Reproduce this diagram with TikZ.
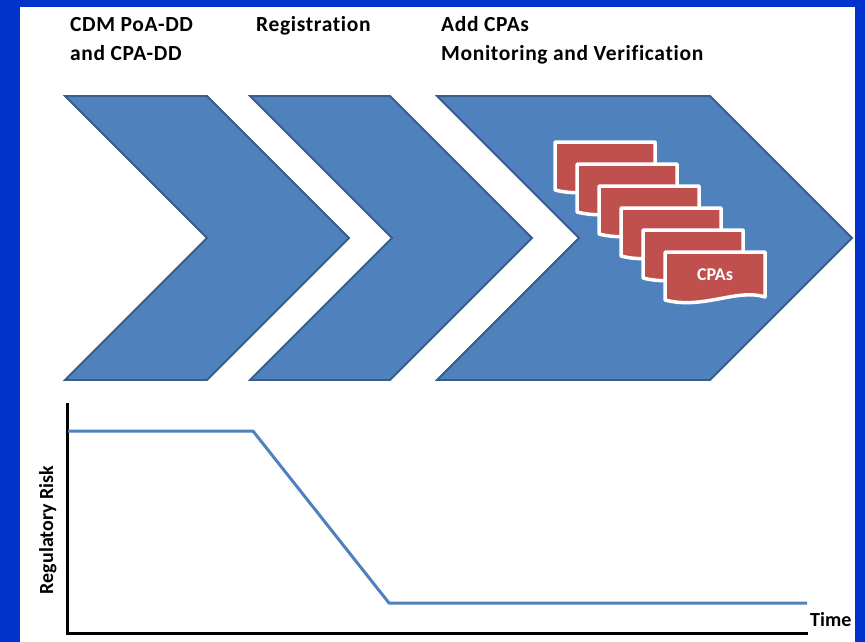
\documentclass[tikz,border=0pt]{standalone}
\usepackage{fontspec}
\setmainfont{Carlito}[Ligatures=CommonOff]
\newfontfamily\headfont{Carlito}[Ligatures=CommonOff,LetterSpace=3]
\definecolor{frameblue}{RGB}{0,51,204}
\definecolor{chevfill}{RGB}{79,129,189}
\definecolor{chevline}{RGB}{56,93,138}
\definecolor{cardred}{RGB}{192,80,77}
\newcommand{\Chevron}[2]{\draw[Chevron] (#1,96) -- (#2,96) -- (#2+142,238) -- (#2,380) -- (#1,380) -- (#1+142,238) -- cycle;}
\newcommand{\Card}[2]{\draw[Card] (#1,#2) -- (#1+100,#2) -- (#1+100,#2+45) .. controls (#1+72,#2+36) and (#1+38,#2+58) .. (#1,#2+48) -- cycle;}

\begin{document}
\begin{tikzpicture}[x=1pt,y=-1pt]
   \tikzset{Chevron/.style={fill=chevfill,draw=chevline,line width=1.8pt,line join=miter}}
   \tikzset{Card/.style={fill=cardred,draw=white,line width=3.5pt,line join=round}}
   \tikzset{Head/.style={anchor=base west,inner sep=0pt,font=\headfont\fontsize{21.5}{25}\selectfont\bfseries}}
   \tikzset{AxisText/.style={inner sep=0pt,font=\fontsize{20}{24}\selectfont\bfseries}}
   \tikzset{Axis/.style={line width=3pt,black}}
   \tikzset{Risk/.style={line width=3pt,chevfill}}
   \fill[frameblue] (0,0) rectangle (865,642);
   \fill[white] (20,7) rectangle (855,642);
   \useasboundingbox (0,0) rectangle (865,642);
   % stage headings
   \node[Head] (cdm) at (70,32) {CDM PoA-DD};
   \node[Head] (cpadd) at (70,61) {and CPA-DD};
   \node[Head] (reg) at (256,32) {Registration};
   \node[Head] (add) at (441,32) {Add CPAs};
   \node[Head] (mon) at (441,61) {Monitoring and Verification};
   % chevrons
   \Chevron{65}{207}
   \Chevron{250}{390}
   \Chevron{437}{710}
   % stack of CPAs
   \Card{555}{142}
   \Card{577}{164}
   \Card{599}{186}
   \Card{621}{208}
   \Card{643}{230}
   \Card{665}{252}
   \node[inner sep=0pt,text=white,font=\fontsize{18}{22}\selectfont\bfseries] (cpas) at (715,275) {CPAs};
   % risk over time
   \coordinate (ytop) at (67,403);
   \coordinate (origin) at (67,633);
   \coordinate (xend) at (808,633);
   \draw[Axis] (ytop) -- (origin) -- (xend);
   \coordinate (r0) at (68,431);
   \coordinate (r1) at (253,431);
   \coordinate (r2) at (389,603);
   \coordinate (r3) at (807,603);
   \draw[Risk] (r0) -- (r1) -- (r2) -- (r3);
   \node[AxisText,rotate=90,anchor=base] (risk) at (53,530) {Regulatory Risk};
   \node[AxisText,anchor=base west] (time) at (810,626) {Time};
\end{tikzpicture}
\end{document}
